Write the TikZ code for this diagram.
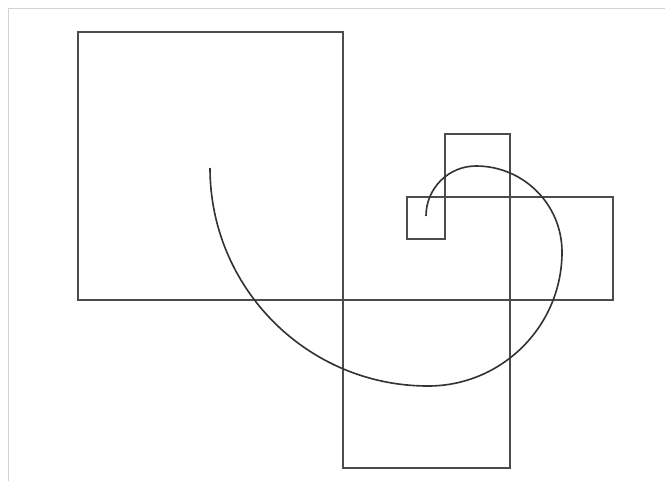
\documentclass[tikz,border=0pt]{standalone}
\begin{document}
\begin{tikzpicture}[x=0.05cm, y=-0.05cm, line join=miter]
    \useasboundingbox (0,0) rectangle (665,481);
    \draw[gray!35, line width=1.2pt](8,481)--(8,8)--(665,8);
    \draw[black!70, line width=2.6pt](78,32) rectangle (343,300);
    \draw[black!70, line width=2.6pt](343,300) rectangle (510,468);
    \draw[black!70, line width=2.6pt](510,197) rectangle (613,300);
    \draw[black!70, line width=2.6pt](445,134) rectangle (510,197);
    \draw[black!70, line width=2.6pt](407,197) rectangle (445,239);
    \draw[black!80, line width=2.3pt](210,168) arc (180:90:218) arc (90:0:134)
        arc (0:-90:86) arc (-90:-180:50);
\end{tikzpicture}
\end{document}
